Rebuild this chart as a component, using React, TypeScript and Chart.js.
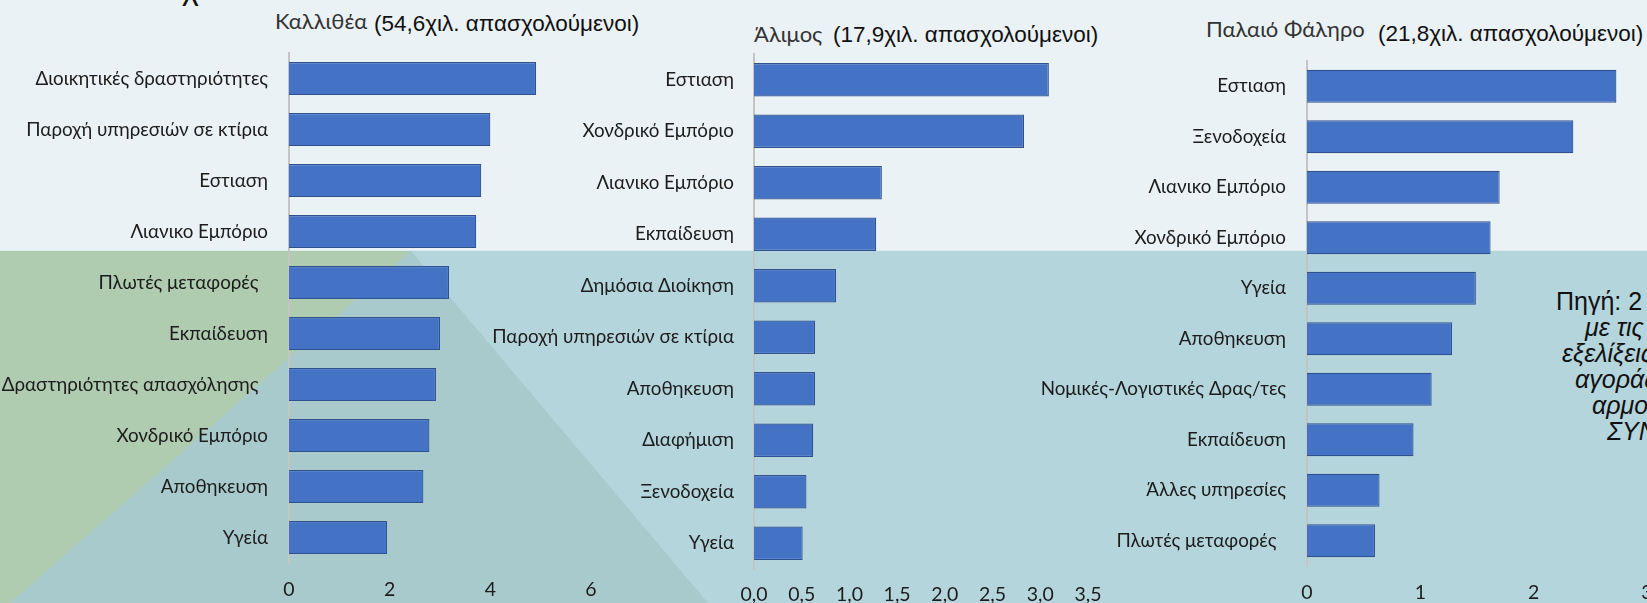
import React, { useEffect, useRef } from "react";
import { Chart, registerables } from "chart.js";

Chart.register(...registerables);

// ---------- DATA ----------
const kallitheaCategories = [
  "Διοικητικές δραστηριότητες",
  "Παροχή υπηρεσιών σε κτίρια",
  "Εστιαση",
  "Λιανικο Εμπόριο",
  "Πλωτές μεταφορές  ",
  "Εκπαίδευση",
  "Δραστηριότητες απασχόλησης  ",
  "Χονδρικό Εμπόριο",
  "Αποθηκευση",
  "Υγεία",
];
const kallitheaValues = [4.91, 4.0, 3.82, 3.72, 3.18, 3.0, 2.92, 2.79, 2.67, 1.95];
const kallitheaTicks = ["0", "2", "4", "6"];

const alimosCategories = [
  "Εστιαση",
  "Χονδρικό Εμπόριο",
  "Λιανικο Εμπόριο",
  "Εκπαίδευση",
  "Δημόσια Διοίκηση",
  "Παροχή υπηρεσιών σε κτίρια",
  "Αποθηκευση",
  "Διαφήμιση",
  "Ξενοδοχεία",
  "Υγεία",
];
const alimosValues = [3.09, 2.83, 1.34, 1.28, 0.86, 0.64, 0.64, 0.62, 0.55, 0.51];
const alimosTicks = ["0,0", "0,5", "1,0", "1,5", "2,0", "2,5", "3,0", "3,5"];

const falirosCategories = [
  "Εστιαση",
  "Ξενοδοχεία",
  "Λιανικο Εμπόριο",
  "Χονδρικό Εμπόριο",
  "Υγεία",
  "Αποθηκευση",
  "Νομικές-Λογιστικές Δρας/τες",
  "Εκπαίδευση",
  "Άλλες υπηρεσίες",
  "Πλωτές μεταφορές  ",
];
const falirosValues = [2.73, 2.35, 1.7, 1.62, 1.49, 1.28, 1.1, 0.94, 0.64, 0.6];
const falirosTicks = ["0", "1", "2", "3"];

const sourceLines = ["με τις", "εξελίξεις", "αγοράς", "αρμοδ", "ΣΥΝ"];

// ---------- STYLE ----------
const LABEL_FONT = { family: "Lato, 'Noto Sans', sans-serif", size: 18.8 };
const TICK_FONT = { family: "Lato, 'Noto Sans', sans-serif", size: 19.5 };
const TEXT_COLOR = "#1c1c1c";
const BAR_FILL = "#4472C4";
const BAR_EDGE = "#2F528F";

type Panel = {
  left: number;
  top: number;
  width: number;
  height: number;
  yWidth: number;
  xHeight: number;
  yGap: number;
  xGap: number;
  max: number;
  step: number;
  categories: string[];
  values: number[];
  ticks: string[];
};

const panels: Panel[] = [
  { left: 0, top: 41, width: 611, height: 562, yWidth: 289, xHeight: 40, yGap: 21, xGap: 15, max: 6, step: 2, categories: kallitheaCategories, values: kallitheaValues, ticks: kallitheaTicks },
  { left: 470, top: 42, width: 638, height: 561, yWidth: 284, xHeight: 34, yGap: 20, xGap: 14, max: 3.5, step: 0.5, categories: alimosCategories, values: alimosValues, ticks: alimosTicks },
  { left: 1010, top: 49, width: 657, height: 554, yWidth: 297, xHeight: 37, yGap: 21, xGap: 15, max: 3, step: 1, categories: falirosCategories, values: falirosValues, ticks: falirosTicks },
];

function makeConfig(p: Panel): any {
  return {
    type: "bar",
    data: {
      labels: p.categories,
      datasets: [
        {
          data: p.values,
          backgroundColor: BAR_FILL,
          borderColor: BAR_EDGE,
          borderWidth: 1.2,
          barPercentage: 0.65,
          categoryPercentage: 1,
        },
      ],
    },
    options: {
      indexAxis: "y",
      responsive: false,
      animation: false,
      events: [],
      layout: { padding: { top: 12, right: 20, bottom: 0, left: 0 } },
      plugins: { legend: { display: false }, tooltip: { enabled: false }, title: { display: false } },
      scales: {
        x: {
          min: 0,
          max: p.max,
          ticks: {
            stepSize: p.step,
            autoSkip: false,
            maxRotation: 0,
            padding: 0,
            color: TEXT_COLOR,
            font: TICK_FONT,
            callback: (_v: any, i: number) => p.ticks[i],
          },
          grid: { display: false, drawTicks: true, tickLength: p.xGap },
          border: { display: false },
          afterFit: (s: any) => {
            s.height = p.xHeight;
          },
        },
        y: {
          ticks: { autoSkip: false, padding: 0, color: TEXT_COLOR, font: LABEL_FONT },
          grid: { display: false, drawTicks: true, tickLength: p.yGap },
          border: { display: true, color: "#C4C4C4", width: 2 },
          afterFit: (s: any) => {
            s.width = p.yWidth;
          },
        },
      },
    },
  };
}

function App() {
  const r0 = useRef<HTMLCanvasElement>(null);
  const r1 = useRef<HTMLCanvasElement>(null);
  const r2 = useRef<HTMLCanvasElement>(null);

  useEffect(() => {
    const refs = [r0, r1, r2];
    const charts = panels.map((p, i) => new Chart(refs[i].current as HTMLCanvasElement, makeConfig(p)));
    return () => charts.forEach((c) => c.destroy());
  }, []);

  const refs = [r0, r1, r2];
  const placeFont = "Lato, 'Noto Sans', sans-serif";
  const arial = "'Liberation Sans', Arial, sans-serif";
  const placeStyle = { position: "absolute" as const, fontFamily: placeFont, fontSize: 22, lineHeight: "26px", color: "#333", whiteSpace: "pre" as const };
  const parenStyle = { position: "absolute" as const, fontFamily: arial, fontSize: 22.5, lineHeight: "26px", color: "#111", whiteSpace: "pre" as const };

  return (
    <div
      style={{
        position: "fixed",
        left: 0,
        top: 0,
        width: 1647,
        height: 603,
        overflow: "hidden",
        background: "#B5D5DD",
      }}
    >
      {/* background shapes */}
      <div style={{ position: "absolute", left: 0, top: 0, width: 1647, height: 250, background: "#EAF2F5" }} />
      <div style={{ position: "absolute", left: 0, top: 250, width: 1647, height: 1, background: "#DCEAEE" }} />
      <div
        style={{
          position: "absolute",
          left: 0,
          top: 0,
          width: 1647,
          height: 603,
          background: "#A9CACC",
          clipPath: "polygon(411px 251px, 708px 603px, 10px 603px)",
        }}
      />
      <div
        style={{
          position: "absolute",
          left: 0,
          top: 0,
          width: 1647,
          height: 603,
          background: "#AFCBB0",
          clipPath: "polygon(0px 251px, 411px 251px, 10px 603px, 0px 603px)",
        }}
      />

      {/* fragment of a title above */}
      <span style={{ position: "absolute", left: 182, top: -27, fontFamily: arial, fontSize: 32, lineHeight: "30px", color: "#111" }}>χ</span>

      {/* panel titles */}
      <span style={{ ...placeStyle, left: 275, top: 8 }}>Καλλιθέα</span>
      <span style={{ ...parenStyle, left: 374, top: 11 }}>(54,6χιλ. απασχολούμενοι)</span>

      <span style={{ ...placeStyle, left: 754, top: 21 }}>Άλιμος</span>
      <span style={{ ...parenStyle, left: 833, top: 22 }}>(17,9χιλ. απασχολούμενοι)</span>

      <span style={{ ...placeStyle, left: 1206, top: 16 }}>Παλαιό Φάληρο</span>
      <span style={{ ...parenStyle, left: 1378, top: 21 }}>(21,8χιλ. απασχολούμενοι)</span>

      {/* source note on the right (cut by the page edge) */}
      <span style={{ position: "absolute", left: 1556, top: 288, fontFamily: arial, fontSize: 25, lineHeight: "27px", color: "#111", whiteSpace: "pre" }}>
        Πηγή: 2
      </span>
      {sourceLines.map((t, i) => (
        <span
          key={i}
          style={{
            position: "absolute",
            left: [1585, 1562, 1575, 1592, 1607][i],
            top: 314 + i * 26,
            fontFamily: arial,
            fontStyle: "italic",
            fontSize: 25,
            lineHeight: "27px",
            color: "#111",
            whiteSpace: "pre",
          }}
        >
          {t}
        </span>
      ))}

      {panels.map((p, i) => (
        <canvas
          key={i}
          ref={refs[i]}
          width={p.width}
          height={p.height}
          style={{ position: "absolute", left: p.left, top: p.top, width: p.width, height: p.height }}
        />
      ))}
    </div>
  );
}

export default App;
